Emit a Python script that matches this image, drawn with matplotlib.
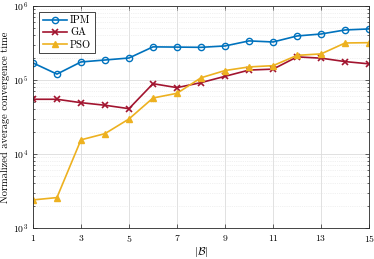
import matplotlib
matplotlib.use("Agg")
import matplotlib.pyplot as plt
from matplotlib.ticker import LogLocator, NullFormatter

plt.rcParams["font.family"] = "serif"
plt.rcParams["font.serif"] = ["cmr10", "DejaVu Serif"]
plt.rcParams["mathtext.fontset"] = "cm"
plt.rcParams["axes.formatter.use_mathtext"] = True
plt.rcParams["axes.unicode_minus"] = False

set_sizes = list(range(1, 16))
ipm = [1.7e5, 1.2e5, 1.75e5, 1.86e5, 1.98e5, 2.8e5, 2.78e5, 2.76e5, 2.88e5,
       3.37e5, 3.26e5, 3.93e5, 4.18e5, 4.74e5, 4.89e5]
ga = [5.48e4, 5.48e4, 4.93e4, 4.55e4, 4.09e4, 8.9e4, 7.87e4, 9.2e4, 1.12e5,
      1.36e5, 1.40e5, 2.05e5, 1.97e5, 1.77e5, 1.65e5]
pso = [2.39e3, 2.57e3, 1.55e4, 1.88e4, 2.97e4, 5.7e4, 6.6e4, 1.07e5, 1.34e5,
       1.5e5, 1.56e5, 2.15e5, 2.25e5, 3.16e5, 3.19e5]
x_ticks = [1, 3, 5, 7, 9, 11, 13, 15]

fig = plt.figure(figsize=(3.74, 2.59), dpi=100)
ax = fig.add_axes([0.088, 0.12, 0.899, 0.857])

ax.plot(set_sizes, ipm, color="#0072BD", marker="o", mfc="none", ms=4.5,
        mew=1.0, lw=1.2, label="IPM")
ax.plot(set_sizes, ga, color="#A2142F", marker="x", ms=4.5, mew=1.2,
        lw=1.2, label="GA")
ax.plot(set_sizes, pso, color="#EDB120", marker="^", ms=4.5, lw=1.2,
        label="PSO")

ax.set_yscale("log")
ax.set_xlim(1, 15)
ax.set_ylim(1e3, 1e6)
ax.set_xticks(x_ticks)
ax.yaxis.set_major_locator(LogLocator(base=10, numticks=10))
ax.yaxis.set_minor_locator(LogLocator(base=10, subs=range(2, 10), numticks=10))
ax.yaxis.set_minor_formatter(NullFormatter())

ax.grid(True, which="major", color="#dcdcdc", lw=0.6)
ax.grid(True, which="minor", axis="y", color="#e3e3e3", lw=0.5, ls=":")
ax.set_axisbelow(True)
ax.tick_params(which="both", direction="in", top=True, right=True,
               labelsize=7, length=3, width=0.5, color="#262626")
ax.tick_params(which="minor", length=1.5)
for s in ax.spines.values():
    s.set_linewidth(0.6)
    s.set_color("#262626")

ax.set_xlabel(r"$|\mathcal{B}|$", fontsize=8, labelpad=1)
ax.set_ylabel("Normalized average convergence time", fontsize=7.5, labelpad=2)

leg = ax.legend(loc="upper left", fontsize=7.5, frameon=True, fancybox=False,
                edgecolor="#262626", framealpha=1, borderpad=0.35,
                labelspacing=0.25, handlelength=2.3, handletextpad=0.3,
                borderaxespad=0.6)
leg.get_frame().set_linewidth(0.6)

fig.savefig("out.png", dpi=100)
